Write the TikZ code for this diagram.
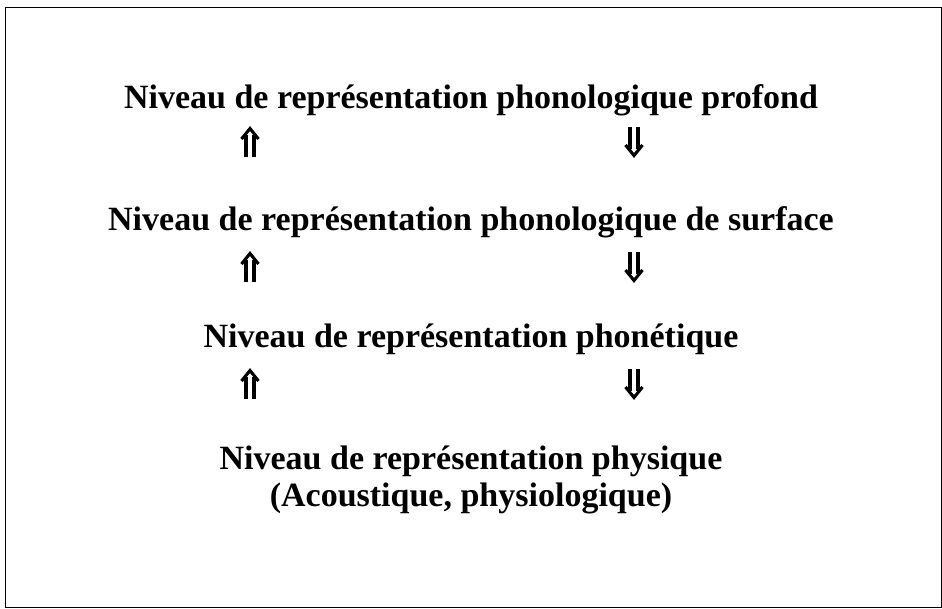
\documentclass[tikz,border=0pt]{standalone}
\usepackage{fontspec}
\setmainfont{Liberation Serif}
\begin{document}
\begin{tikzpicture}[x=1pt,y=-1pt,
  lvl/.style={font=\fontsize{34}{37}\selectfont\bfseries, inner sep=0pt, align=center},
  glyph/.style={line width=3.1pt, line cap=butt, line join=miter},
  uparr/.pic={
    \draw[glyph] (-4,15) -- (-4,-7) (4,15) -- (4,-7);
    \draw[glyph] (-8.5,-3) -- (0,-13.5) -- (8.5,-3);
  },
  dnarr/.pic={
    \draw[glyph] (-4,-15) -- (-4,7) (4,-15) -- (4,7);
    \draw[glyph] (-8.5,3) -- (0,13.5) -- (8.5,3);
  }]
\useasboundingbox (0,0) rectangle (942,608);
\node[draw, line width=1.4pt, minimum width=936pt, minimum height=600pt, anchor=north west, inner sep=0pt] (frame) at (4.5,6.5) {};
\node[lvl] (l1) at (471,100) {Niveau de représentation phonologique profond};
\node[lvl] (l2) at (471,222) {Niveau de représentation phonologique de surface};
\node[lvl] (l3) at (471,339) {Niveau de représentation phonétique};
\node[lvl] (l4) at (471,480) {Niveau de représentation physique\\(Acoustique, physiologique)};
\coordinate (u1) at (250,142); \coordinate (d1) at (634,142);
\coordinate (u2) at (250,267); \coordinate (d2) at (634,267);
\coordinate (u3) at (250,384); \coordinate (d3) at (634,384);
\foreach \c in {u1,u2,u3} \pic at (\c) {uparr};
\foreach \c in {d1,d2,d3} \pic at (\c) {dnarr};
\end{tikzpicture}
\end{document}
